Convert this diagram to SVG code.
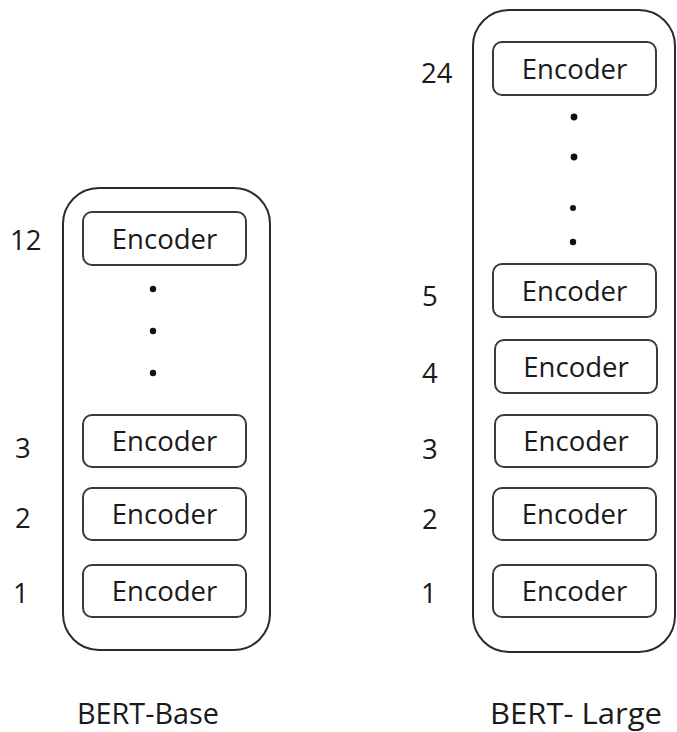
<svg xmlns="http://www.w3.org/2000/svg" width="677" height="732" viewBox="0 0 677 732">
<style>
.c{fill:none;stroke:#2b2b2b;stroke-width:2}
.e{fill:#fff;stroke:#3a3a3a;stroke-width:2}
text{font-family:"Open Sans","Liberation Sans",sans-serif;font-size:27.5px;fill:#1a1a1a}
.m{text-anchor:middle}
.t{font-size:29px}
.d{fill:#111}
</style>
<rect width="677" height="732" fill="#fff"/>
<g id="bert-base">
<rect class="c" x="63" y="188" width="207" height="462" rx="36"/>
</g>
<g id="bert-large">
<rect class="c" x="473" y="10" width="202" height="642" rx="36"/>
</g>
<g id="connectors"></g>
<g id="base-enc-12"><rect class="e" x="83" y="212" width="163" height="53" rx="9"/><text class="m" x="164.5" y="249">Encoder</text></g>
<g id="base-enc-3"><rect class="e" x="83" y="415" width="163" height="52" rx="9"/><text class="m" x="164.5" y="451">Encoder</text></g>
<g id="base-enc-2"><rect class="e" x="83" y="488" width="163" height="52" rx="9"/><text class="m" x="164.5" y="524">Encoder</text></g>
<g id="base-enc-1"><rect class="e" x="83" y="565" width="163" height="52" rx="9"/><text class="m" x="164.5" y="601">Encoder</text></g>
<g id="base-dots"><circle class="d" cx="153" cy="289" r="3.2"/><circle class="d" cx="153" cy="331" r="3.2"/><circle class="d" cx="153" cy="373" r="3.2"/></g>
<g id="base-labels">
<text x="10" y="250">12</text>
<text x="15" y="458">3</text>
<text x="15" y="528">2</text>
<text x="13" y="603">1</text>
</g>
<g id="large-enc-24"><rect class="e" x="493" y="42" width="163" height="53" rx="9"/><text class="m" x="574.5" y="79">Encoder</text></g>
<g id="large-enc-5"><rect class="e" x="493" y="264" width="163" height="53" rx="9"/><text class="m" x="574.5" y="301">Encoder</text></g>
<g id="large-enc-4"><rect class="e" x="495" y="340" width="162" height="53" rx="9"/><text class="m" x="576" y="377">Encoder</text></g>
<g id="large-enc-3"><rect class="e" x="495" y="415" width="162" height="52" rx="9"/><text class="m" x="576" y="451">Encoder</text></g>
<g id="large-enc-2"><rect class="e" x="493" y="488" width="163" height="52" rx="9"/><text class="m" x="574.5" y="524">Encoder</text></g>
<g id="large-enc-1"><rect class="e" x="493" y="565" width="163" height="52" rx="9"/><text class="m" x="574.5" y="601">Encoder</text></g>
<g id="large-dots"><circle class="d" cx="574" cy="117" r="3.4"/><circle class="d" cx="574" cy="157" r="3.4"/><circle class="d" cx="573" cy="208" r="3"/><circle class="d" cx="573" cy="242" r="3.2"/></g>
<g id="large-labels">
<text x="421" y="83">24</text>
<text x="422" y="306">5</text>
<text x="422" y="383">4</text>
<text x="422" y="459">3</text>
<text x="422" y="529">2</text>
<text x="421" y="603">1</text>
</g>
<g id="titles">
<text class="t" x="77" y="724" textLength="142" lengthAdjust="spacingAndGlyphs">BERT-Base</text>
<text class="t" x="490" y="724" textLength="172" lengthAdjust="spacingAndGlyphs">BERT- Large</text>
</g>
</svg>
